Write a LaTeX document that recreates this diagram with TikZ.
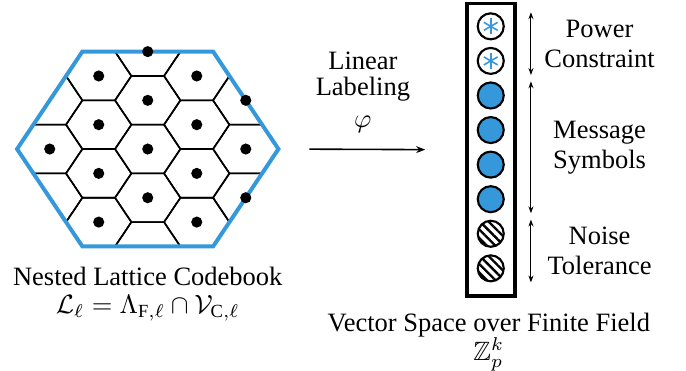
\documentclass[tikz,border=0pt]{standalone}
\usepackage{amsmath,amssymb}
\usepackage{fontspec}
\setmainfont{Liberation Serif}
\usetikzlibrary{positioning,arrows.meta,patterns.meta}
\definecolor{latblue}{HTML}{3498DB}

\tikzset{
  cell/.style={semithick},
  coarse/.style={latblue,line width=1.5pt,line join=miter},
  dot/.style={circle,fill,inner sep=0pt,minimum size=4.2pt},
  sym/.style={circle,draw,thick,inner sep=0pt,minimum size=0.345cm},
  msg/.style={sym,fill=latblue},
  noise/.style={sym,pattern={Lines[angle=-45,distance=2.3pt,line width=0.9pt]}},
  pwr/.style={sym,path picture={
      \foreach \a in {90,30,150}
        \draw[latblue,line width=0.6pt] (path picture bounding box.center)
          ++(\a:3pt) -- ++(\a:-6pt);}},
  lbl/.style={align=center},
  dbl/.style={{Stealth[length=2.6pt,width=1.9pt]}-{Stealth[length=2.6pt,width=1.9pt]},thin},
  main/.style={-{Stealth[length=3.4pt,width=2.6pt]},semithick},
}

\begin{document}
\begin{tikzpicture}
    \useasboundingbox (0,0) rectangle (9.096,-4.919);
    % LATTICE
    \begin{scope}[shift={(1.959,-1.976)},xscale=0.7505,yscale=0.6458]
      % voronoi cells of the fine lattice
      \begin{scope}
        \clip (2.309,0) -- (1.155,2) -- (-1.155,2) -- (-2.309,0) -- (-1.155,-2) -- (1.155,-2) -- cycle;
        \foreach \i in {-3,...,3}
          \foreach \j in {-5,...,5}
            \draw[cell] ({0.866*\i+0.577},{\j+0.5*\i}) -- ++(-0.289,0.5) -- ++(-0.577,0)
              -- ++(-0.289,-0.5) -- ++(0.289,-0.5) -- ++(0.577,0) -- cycle;
      \end{scope}
      % coarse cell
      \draw[coarse] (2.309,0) -- (1.155,2) -- (-1.155,2) -- (-2.309,0) -- (-1.155,-2) -- (1.155,-2) -- cycle;
      \coordinate (hexE) at (2.309,0);
      \coordinate (hexS) at (0,-2);
      % codewords
      \foreach \p [count=\k] in {(0,2),(0,1),(0,0),(0,-1),
          (-0.866,1.5),(-0.866,0.5),(-0.866,-0.5),(-0.866,-1.5),
          (0.866,1.5),(0.866,0.5),(0.866,-0.5),(0.866,-1.5),
          (-1.732,0),(1.732,1),(1.732,0),(1.732,-1)}
        \node[dot] (pt\k) at \p {};
    \end{scope}
    \node[lbl,below=0.15cm] (nlc) at (hexS) {Nested Lattice Codebook\\[-1.5pt]$\mathcal{L}_\ell=\Lambda_{\mathrm{F},\ell}\cap\mathcal{V}_{\mathrm{C},\ell}$};
    % VECTOR
    \node[draw,line width=1.2pt,minimum width=0.637cm,minimum height=3.879cm] (vec) at (6.511,-1.986) {};
    \foreach \s [count=\k] in {pwr,pwr,msg,msg,msg,msg,noise,noise}
      \node[\s] (c\k) at (6.507,{-0.349-0.4584*(\k-1)}) {};
    \node[lbl,below=0.08cm,xshift=-0.03cm] (vsf) at (vec.south) {Vector Space over Finite Field\\[-1pt]$\mathbb{Z}_p^k$};
    % labels on the right
    \coordinate (ax) at (7.04,0);
    \draw[dbl] (c1.north -| ax) -- node[lbl,xshift=0.91cm] (pc) {Power\\[-0.7pt]Constraint} (c2.south -| ax);
    \draw[dbl] (c3.north -| ax) -- node[lbl,xshift=0.91cm] (ms) {Message\\[-0.7pt]Symbols} (c6.south -| ax);
    \draw[dbl] (c7.north -| ax) -- node[lbl,xshift=0.91cm] (nt) {Noise\\[-0.7pt]Tolerance} (c8.south -| ax);
    % MAPPING
    \draw[main,shorten <=0.41cm,shorten >=0.534cm] (hexE) -- node[lbl,above=2.6pt,xshift=-0.12cm] (ll) {Linear\\[-2pt]Labeling\\$\varphi$} (vec.west);
\end{tikzpicture}
\end{document}
